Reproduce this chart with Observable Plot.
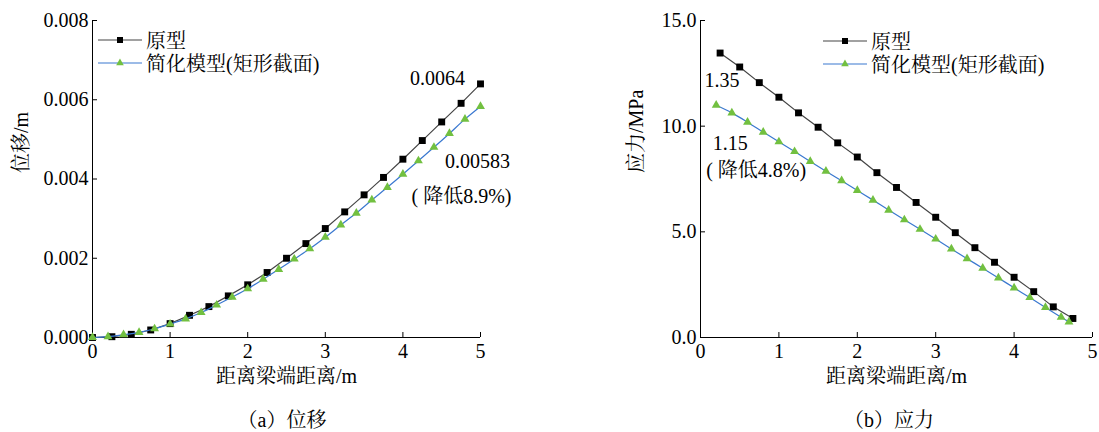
<!DOCTYPE html>
<html><head><meta charset="utf-8">
<script src="https://cdn.jsdelivr.net/npm/d3@7"></script>
<script src="https://cdn.jsdelivr.net/npm/@observablehq/plot@0.6"></script>
<style>
body{margin:0;background:#fff;}
#wrap{position:relative;width:1099px;height:432px;overflow:hidden;color:#000;}
#wrap, #wrap div, #wrap span, #wrap svg, #wrap svg text{font-family:'Liberation Serif','Noto Serif CJK SC','Noto Sans CJK SC',serif !important;}
.panel{position:absolute;top:0;}
.cap{position:absolute;top:406px;height:28px;line-height:28px;font-size:20px;white-space:nowrap;transform:translateX(-50%);}
.legend{position:absolute;font-size:20px;}
.row{display:flex;align-items:center;height:23px;white-space:nowrap;}
.row svg{margin-right:4px;}
</style></head><body>
<div id="wrap"></div>
<script>
// ---------- data ----------
const seriesNames = ["原型", "简化模型(矩形截面)"];
const xTicks = [0, 1, 2, 3, 4, 5];
const dispYTicks = [0, 0.002, 0.004, 0.006, 0.008];
const stressYTicks = [0, 5, 10, 15];

const dispXOrig = [0,0.25,0.5,0.75,1,1.25,1.5,1.75,2,2.25,2.5,2.75,3,3.25,3.5,3.75,4,4.25,4.5,4.75,5];
const dispOrig = [0,0.00002,0.00008,0.00019,0.00035,0.00056,0.00078,0.00105,0.00133,0.00164,0.00200,0.00237,0.00275,0.00317,0.00360,0.00404,0.00450,0.00497,0.00544,0.00591,0.00640];
const dispXSimp = [0,0.2,0.4,0.6,0.8,1,1.2,1.4,1.6,1.8,2,2.2,2.4,2.6,2.8,3,3.2,3.4,3.6,3.8,4,4.2,4.4,4.6,4.8,5];
const dispSimp = [0,0.00002,0.00007,0.00013,0.00022,0.00034,0.00047,0.00063,0.00082,0.00102,0.00123,0.00147,0.00172,0.00198,0.00224,0.00253,0.00284,0.00314,0.00347,0.00379,0.00412,0.00446,0.00480,0.00515,0.00551,0.00583];

const stressXOrig = [0.25,0.5,0.75,1,1.25,1.5,1.75,2,2.25,2.5,2.75,3,3.25,3.5,3.75,4,4.25,4.5,4.75];
const stressOrig = [13.46,12.80,12.06,11.37,10.63,9.95,9.21,8.54,7.80,7.10,6.39,5.69,4.96,4.25,3.56,2.85,2.17,1.45,0.90];
const stressXSimp = [0.2,0.4,0.6,0.8,1,1.2,1.4,1.6,1.8,2,2.2,2.4,2.6,2.8,3,3.2,3.4,3.6,3.8,4,4.2,4.4,4.6,4.7];
const stressSimp = [10.99,10.63,10.19,9.72,9.26,8.80,8.33,7.87,7.42,6.96,6.50,6.03,5.57,5.12,4.66,4.19,3.73,3.28,2.82,2.35,1.89,1.42,0.96,0.74];

const dispNotes = ["0.0064", "0.00583", "( 降低8.9%)"];
const stressNotes = ["1.35", "1.15", "( 降低4.8%)"];
const xLabel = "距离梁端距离/m";
const dispYLabel = "位移/m";
const stressYLabel = "应力/MPa";
const captions = ["（a）位移", "（b）应力"];

// ---------- styles ----------
const C_BLACK_LINE = "#444";
const C_BLUE = "#3a78d0";
const C_GREEN = "#72c040";
const FONT = "'Liberation Serif','Noto Serif CJK SC','Noto Sans CJK SC',serif";

const toRows = (xs, ys) => xs.map((x, i) => ({x, y: ys[i]}));

function panel({width, marginLeft, marginRight, yDomain, yTicks, yFmt, orig, simp, notes, noteAnchors, yLabel, yLabelDx}) {
  return Plot.plot({
    width, height: 400,
    marginLeft, marginRight, marginTop: 20, marginBottom: 63,
    style: `font-family: ${FONT}; font-size: 20px; color: #000; background: #fff; overflow: visible;`,
    x: {domain: [0, 5]},
    y: {domain: yDomain},
    marks: [
      Plot.axisX({ticks: xTicks, tickSize: -5, tickPadding: 11, tickFormat: d3.format("d"), label: null}),
      Plot.axisY({ticks: yTicks, tickSize: -5, tickPadding: 9, tickFormat: yFmt, label: null}),
      Plot.ruleX([0], {stroke: "#000"}),
      Plot.ruleY([yDomain[0]], {stroke: "#000"}),
      Plot.line(orig, {x: "x", y: "y", stroke: C_BLACK_LINE, strokeWidth: 1.2}),
      Plot.dot(orig, {x: "x", y: "y", symbol: "square", r: 3.9, fill: "#000", stroke: "none"}),
      Plot.line(simp, {x: "x", y: "y", stroke: C_BLUE, strokeWidth: 1.2, curve: "catmull-rom"}),
      Plot.dot(simp, {x: "x", y: "y", symbol: "triangle", r: 3.3, fill: C_GREEN, stroke: "none"}),
      ...notes.map((t, i) => Plot.text([t], {x: () => noteAnchors[i].x, y: () => noteAnchors[i].y, dx: noteAnchors[i].dx, dy: noteAnchors[i].dy, fill: "#000"})),
      Plot.text([xLabel], {frameAnchor: "bottom", dy: 45, fill: "#000"}),
      Plot.text([yLabel], {frameAnchor: "left", dx: yLabelDx, dy: -6, rotate: -90, fill: "#000"})
    ]
  });
}

const dOrig = toRows(dispXOrig, dispOrig);
const dSimp = toRows(dispXSimp, dispSimp);
const sOrig = toRows(stressXOrig, stressOrig);
const sSimp = toRows(stressXSimp, stressSimp);

const lastO = dOrig[dOrig.length - 1], lastS = dSimp[dSimp.length - 1];
const left = panel({
  width: 550, marginLeft: 92, marginRight: 70,
  yDomain: [0, 0.008], yTicks: dispYTicks, yFmt: d3.format(".3f"),
  orig: dOrig, simp: dSimp, notes: dispNotes,
  noteAnchors: [
    {x: lastO.x, y: lastO.y, dx: -43, dy: -5},
    {x: lastS.x, y: lastS.y, dx: -3, dy: 55},
    {x: lastS.x, y: lastS.y, dx: -19, dy: 90}
  ],
  yLabel: dispYLabel, yLabelDx: -71
});

const firstO = sOrig[0], firstS = sSimp[0];
const right = panel({
  width: 549, marginLeft: 150, marginRight: 7,
  yDomain: [0, 15], yTicks: stressYTicks, yFmt: d3.format(".1f"),
  orig: sOrig, simp: sSimp, notes: stressNotes,
  noteAnchors: [
    {x: firstO.x, y: firstO.y, dx: 2, dy: 28},
    {x: firstS.x, y: firstS.y, dx: 14, dy: 38},
    {x: firstS.x, y: firstS.y, dx: 40, dy: 65}
  ],
  yLabel: stressYLabel, yLabelDx: -64
});

const wrap = document.getElementById("wrap");
left.classList.add("panel"); left.style.left = "0px";
right.classList.add("panel"); right.style.left = "550px";
wrap.appendChild(left);
wrap.appendChild(right);

function legend(x, y) {
  const div = document.createElement("div");
  div.className = "legend";
  div.style.left = x + "px";
  div.style.top = y + "px";
  const rows = [
    `<svg width="44" height="14"><line x1="0" y1="7" x2="44" y2="7" stroke="${C_BLACK_LINE}" stroke-width="1.2"/><rect x="19" y="4" width="6" height="6" fill="#000"/></svg>`,
    `<svg width="44" height="14"><line x1="0" y1="7" x2="44" y2="7" stroke="${C_BLUE}" stroke-width="1.2"/><path d="M22,2.5 L25.8,9.2 L18.2,9.2 Z" fill="${C_GREEN}"/></svg>`
  ];
  div.innerHTML = seriesNames.map((n, i) => `<div class="row">${rows[i]}<span>${n}</span></div>`).join("");
  wrap.appendChild(div);
}
legend(98, 28);
legend(823, 29);

[[282, captions[0]], [889, captions[1]]].forEach(([cx, t]) => {
  const d = document.createElement("div");
  d.className = "cap";
  d.style.left = cx + "px";
  d.textContent = t;
  wrap.appendChild(d);
});
</script>
</body></html>
